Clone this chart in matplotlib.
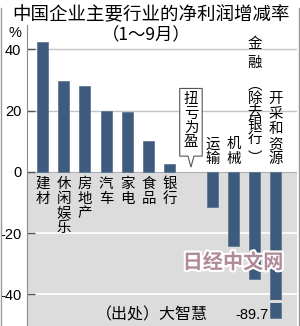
import numpy as np
import matplotlib.pyplot as plt
import matplotlib.patheffects as pe
from matplotlib.patches import Polygon
from matplotlib.lines import Line2D

plt.rcParams['font.family'] = ['Noto Sans CJK SC', 'DejaVu Sans']

# data
categories = ['建材', '休闲娱乐', '房地产', '汽车', '家电', '食品', '银行',
              '扭亏为盈', '运输', '机械', '金融︵除去银行︶', '开采和资源']
values = [42.5, 29.7, 28.1, 19.9, 19.4, 10.0, 2.5, np.nan,
          -11.6, -24.3, -35.1, -89.7]
yticks = [40, 20, 0, -20, -40]

BAR = '#3e5a7d'
GRAY = '#dcdcdc'
PX = 0.72  # px -> pt at dpi 100

fig = plt.figure(figsize=(3, 3.26), dpi=100)
ax = fig.add_axes([27 / 300, 0, 270 / 300, 301 / 326])
ymin, ymax = -50.4, 48.0
ax.set_xlim(-0.73, 12.0)
ax.set_ylim(ymin, ymax)

# lower gray half and grid
ax.axhspan(ymin, 0, color=GRAY, zorder=0, lw=0)
for t in yticks:
    if t > 0:
        ax.axhline(t, color='#c4c4c4', lw=1, zorder=1)
    elif t < 0:
        ax.axhline(t, color='white', lw=1.2, zorder=1)
ax.axhline(0, color='#b0b0b0', lw=0.8, zorder=1)

x = np.arange(len(categories))
vals = np.array(values)
low_cut = -47.8
shown = np.clip(vals, low_cut, None)
ok = ~np.isnan(vals)
ax.bar(x[ok], shown[ok], width=0.52, color=BAR, edgecolor='#56708f',
       lw=0.5, zorder=3)

# break in the off-scale bar
for i in np.where(vals < low_cut)[0]:
    ax.bar(x[i], 1.1, bottom=-42.9, width=0.7, color=GRAY, lw=0, zorder=4)
    ax.annotate('%.1f' % vals[i], xy=(x[i], ymin), xytext=(-5, 11 * PX),
                textcoords='offset points', ha='right', va='center',
                fontsize=10.5, family='Liberation Sans')


def vlabel(i, chars, centers_px):
    for ch, c in zip(chars, centers_px):
        ax.annotate(ch, xy=(x[i], 0), xytext=(0, -c * PX),
                    textcoords='offset points', ha='center', va='center',
                    fontsize=10.4, zorder=5)


for i, (cat, v) in enumerate(zip(categories, values)):
    chars = list(cat)
    n = len(chars)
    if np.isnan(v):
        continue
    if v > 0:
        vlabel(i, chars, [12 + 14.8 * k for k in range(n)])
    elif cat.startswith('金融'):
        vlabel(i, chars, [-127.7, -108.7, -86.7, -72.7, -59.7, -46.7, -32.7, -13.7])
    else:
        vlabel(i, chars, [-12.5 - 15 * (n - 1 - k) for k in range(n)])

# callout for 扭亏为盈
i = categories.index('扭亏为盈')
px2y = 20 / 61.2
hw = 0.53
top, bot, tip = 83.4 * px2y, 15.7 * px2y, 4.7 * px2y
poly = Polygon([(i - hw, top), (i + hw, top), (i + hw, bot), (i + 0.14, bot),
                (i, tip), (i - 0.14, bot), (i - hw, bot)],
               closed=True, facecolor='white', edgecolor='#555555', lw=0.8,
               zorder=4)
ax.add_patch(poly)
vlabel(i, list(categories[i]), [-73.2, -57.7, -43.7, -30.2])

# axes styling
for s in ['top', 'right', 'bottom']:
    ax.spines[s].set_visible(False)
ax.spines['left'].set_color('#8a8a8a')
ax.set_xticks([])
ax.set_yticks(yticks)
ax.set_yticklabels([str(t) for t in yticks], family='Liberation Sans',
                   fontsize=10.5)
ax.tick_params(axis='y', direction='in', length=6, width=1, color='#555555',
               pad=4)

# titles and notes
fig.text(0.503, 1 - 15 / 326, '中国企业主要行业的净利润增减率', ha='center',
         va='center', fontsize=13.3)
fig.text(0.487, 1 - 35 / 326, '（1～9月）', ha='center', va='center',
         fontsize=12.5)
fig.text(15 / 300, 1 - 33 / 326, '%', ha='center', va='center', fontsize=10.5,
         family='Liberation Sans')
fig.text(96 / 300, 1 - 315 / 326, '（出处）大智慧', ha='left', va='center',
         fontsize=11.5)
fig.text(233 / 300, 1 - 262 / 326, '日经中文网', ha='center', va='center',
         fontsize=14.5, weight='bold', color='#b08a98',
         path_effects=[pe.withStroke(linewidth=3, foreground='white')])

# thin frame lines at the image sides
fig.add_artist(Line2D([0.5 / 300, 0.5 / 300], [0, 1 - 8 / 326], color='#9a9a9a',
                      lw=1, transform=fig.transFigure))
fig.add_artist(Line2D([298.5 / 300, 298.5 / 300], [0, 1 - 8 / 326],
                      color='#9a9a9a', lw=1, transform=fig.transFigure))

fig.savefig('out.png', dpi=100)
